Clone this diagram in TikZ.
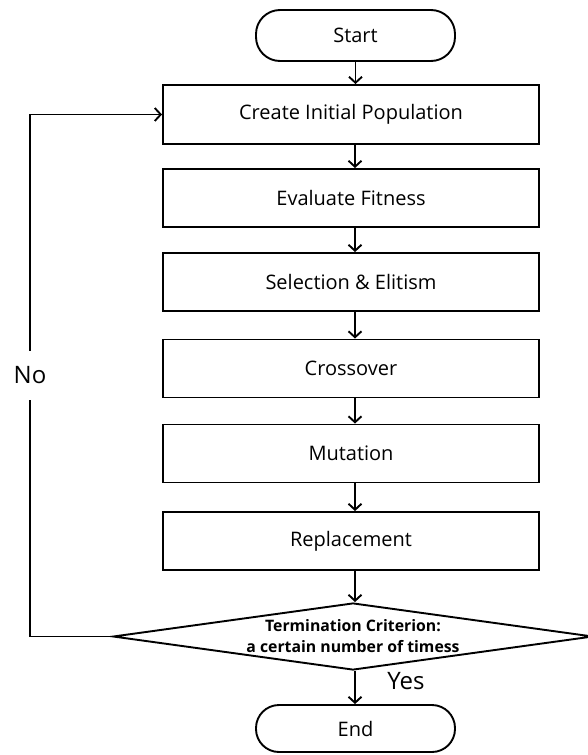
\documentclass[tikz,border=0pt]{standalone}
\usepackage{fontspec}
\setmainfont{Open Sans}
\usetikzlibrary{arrows.meta,shapes.geometric}
\begin{document}
\begin{tikzpicture}[x=1pt,y=-1pt,line width=1.9pt,
  boxtext/.style={font=\fontsize{20}{22}\selectfont},
  proc/.style={draw,boxtext,minimum width=376pt,minimum height=58pt,inner sep=0pt},
  term/.style={draw,boxtext,rounded corners=24pt,minimum width=199pt,inner sep=0pt},
  decision/.style={draw,diamond,shape aspect=7.2,minimum width=480pt,minimum height=67pt,
    inner sep=0pt,align=center,font=\bfseries\fontsize{15.8}{21}\selectfont},
  flow/.style={-{Straight Barb[length=6pt,width=13pt]}},
  branch/.style={font=\fontsize{24}{26}\selectfont}]
\clip (0,0) rectangle (588,755);

% terminals and process steps, top to bottom
\node[term,minimum height=51pt] (start) at (355.5,35.5) {Start};
\node[proc,minimum height=59pt] (init) at (351,114.5) {Create Initial Population};
\node[proc] (eval) at (351,198) {Evaluate Fitness};
\node[proc] (sel)  at (351,282) {Selection \& Elitism};
\node[proc] (cross) at (351,368.5) {Crossover};
\node[proc] (mut)  at (351,453.5) {Mutation};
\node[proc] (repl) at (351,541) {Replacement};
\node[decision] (crit) at (353,636.5) {Termination Criterion:\\a certain number of timess};
\node[term,minimum height=47pt,rounded corners=23pt] (end) at (355.5,728.5) {End};

% vertical axis for the main flow
\coordinate (axis) at (355,0);

\draw[flow] (start.south) -- (start.south |- init.north);
\draw[flow] (init.south -| axis) -- (eval.north -| axis);
\draw[flow] (eval.south -| axis) -- (sel.north -| axis);
\draw[flow] (sel.south -| axis) -- (cross.north -| axis);
\draw[flow] (cross.south -| axis) -- (mut.north -| axis);
\draw[flow] (mut.south -| axis) -- (repl.north -| axis);
\draw[flow] (repl.south -| axis) -- (crit.north -| axis);
\draw[flow] (crit.south -| axis) -- (end.north -| axis);
\node[branch,anchor=west] (yes) at (383,681) {Yes};

% loop back when the criterion is not met
\coordinate (loopbot) at (30,636.5);
\coordinate (looptop) at (30,114.5);
\draw[flow] (crit.west) -- (loopbot)
  -- node[branch,fill=white,inner xsep=2pt,inner ysep=16pt] (no) {No} (looptop)
  -- (init.west);
\end{tikzpicture}
\end{document}
